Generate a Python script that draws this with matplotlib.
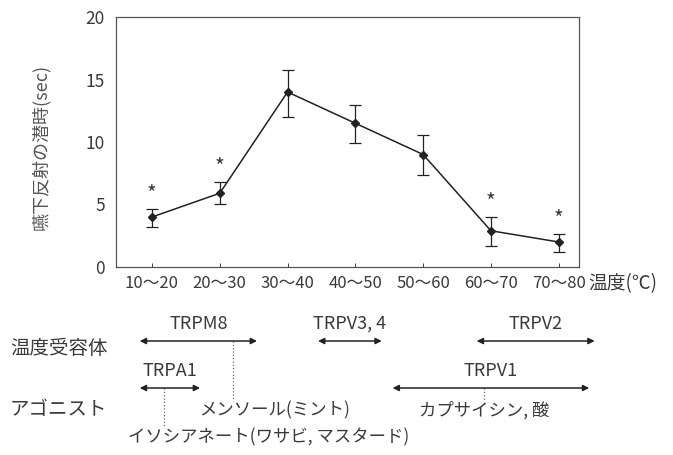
import matplotlib.pyplot as plt
import numpy as np

plt.rcParams['font.family'] = ['Noto Sans CJK JP', 'DejaVu Sans']

# Latency of swallowing reflex per temperature band
categories = ['10～20', '20～30', '30～40', '40～50', '50～60', '60～70', '70～80']
latency = [4.0, 5.9, 14.0, 11.5, 9.0, 2.9, 2.0]
err_low = [0.8, 0.9, 2.0, 1.6, 1.6, 1.2, 0.8]
err_high = [0.6, 0.9, 1.8, 1.5, 1.6, 1.1, 0.6]
significant = [True, True, False, False, False, True, True]

# receptors: name, start, end (in category units), row
receptors = ['TRPM8', 'TRPV3, 4', 'TRPV2', 'TRPA1', 'TRPV1']
rec_start = [-0.18, 2.45, 4.79, -0.18, 3.55]
rec_end = [1.55, 3.39, 6.53, 0.71, 6.45]
rec_row = [0, 0, 0, 1, 1]

# agonists: text, linked position on receptor arrow, text row
agonists = ['メンソール(ミント)', 'カプサイシン, 酸', 'イソシアネート(ワサビ, マスタード)']
ago_link = [1.19, 4.9, 0.18]
ago_text_x = [1.81, 4.9, 1.72]
ago_row = [1, 1, 2]

gray = '#3a3a3a'
x = np.arange(len(categories))

fig = plt.figure(figsize=(6.73, 4.55), dpi=100)
ax = fig.add_axes([0.1724, 0.4132, 0.688, 0.5494])

ax.errorbar(x, latency, yerr=[err_low, err_high], color='#222222', marker='D',
            markersize=4.5, linewidth=1.1, capsize=4, elinewidth=0.9, capthick=0.9)
for xi, y, eh, s in zip(x, latency, err_high, significant):
    if s:
        ax.text(xi, y + eh + 0.25, '*', ha='center', va='bottom', fontsize=15, color=gray)

ax.set_xlim(-0.53, 6.3)
ax.set_ylim(0, 20)
ax.set_yticks([0, 5, 10, 15, 20])
ax.set_xticks(x)
ax.set_xticklabels(categories)
ax.tick_params(axis='x', labelsize=12, colors=gray, direction='in', length=3, width=0.7, pad=6)
ax.tick_params(axis='y', labelsize=12.5, colors=gray, length=0, pad=8)
for sp in ax.spines.values():
    sp.set_color('#555555')
    sp.set_linewidth(0.9)
ax.set_ylabel('嚥下反射の潜時(sec)', fontsize=13, color='#555555')
ax.yaxis.set_label_coords(-0.142, 0.48)
ax.text(6.43, -1.35, '温度(℃)', fontsize=13.5, color=gray, va='center', ha='left', clip_on=False)

# lower panel with receptors and agonists
ax2 = fig.add_axes([0.1724, 0.0, 0.688, 0.3516])
ax2.set_xlim(-0.53, 6.3)
ax2.set_ylim(160, 0)
ax2.axis('off')

row_y = [46, 93]
for name, s, e, r in zip(receptors, rec_start, rec_end, rec_row):
    y = row_y[r]
    ax2.annotate('', xy=(s, y), xytext=(e, y), clip_on=False,
                 arrowprops=dict(arrowstyle='<|-|>', color='#222222', lw=1.1,
                                 mutation_scale=9, shrinkA=0, shrinkB=0))
    ax2.text((s + e) / 2, y - 8, name, ha='center', va='bottom', fontsize=13, color=gray)

ago_y = [93, 115, 142]
link_from = [row_y[0], row_y[1], row_y[1]]
for txt, lx, tx, r, fy in zip(agonists, ago_link, ago_text_x, ago_row, link_from):
    ty = ago_y[r]
    ax2.plot([lx, lx], [fy, ty - 9], linestyle=':', color='#666666', linewidth=0.9, clip_on=False)
    ax2.text(tx, ty, txt, ha='center', va='center', fontsize=12.5, color=gray)

fig.text(10 / 673, 1 - 348 / 455, '温度受容体', fontsize=14, color=gray, va='center', ha='left')
fig.text(10 / 673, 1 - 410 / 455, 'アゴニスト', fontsize=14, color=gray, va='center', ha='left')

fig.savefig('out.png', dpi=100)
